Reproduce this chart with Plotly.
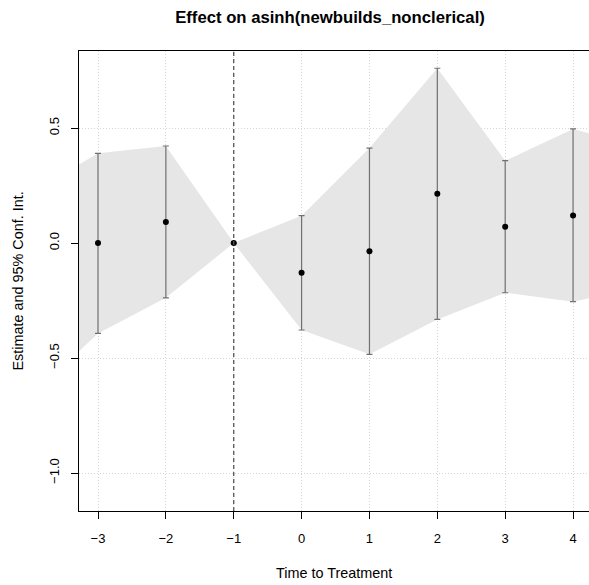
import plotly.graph_objects as go

# ---- data ----
periods = [-3, -2, -1, 0, 1, 2, 3, 4]
estimate = [0.0, 0.091, 0.0, -0.129, -0.036, 0.214, 0.071, 0.120]
ci_upper = [0.390, 0.422, 0.0, 0.119, 0.413, 0.760, 0.358, 0.496]
ci_lower = [-0.393, -0.238, 0.0, -0.378, -0.484, -0.332, -0.216, -0.255]
# shaded band continues to the plot edges
band_edge_x = [-3.28, 4.235]
band_edge_upper = [0.342, 0.477]
band_edge_lower = [-0.470, -0.240]

x_ticks = [-3, -2, -1, 0, 1, 2, 3, 4]
x_tick_labels = ["\u22123", "\u22122", "\u22121", "0", "1", "2", "3", "4"]
y_ticks = [-1.0, -0.5, 0.0, 0.5]
y_tick_labels = ["\u22121.0", "\u22120.5", "0.0", "0.5"]
reference_period = -1

title_text = "Effect on asinh(newbuilds_nonclerical)"
x_title = "Time to Treatment"
y_title = "Estimate and 95% Conf. Int."

FONT = "Liberation Sans, Arial, Helvetica, sans-serif"

fig = go.Figure()

# confidence band
band_x = [band_edge_x[0]] + periods + [band_edge_x[1]]
band_up = [band_edge_upper[0]] + ci_upper + [band_edge_upper[1]]
band_lo = [band_edge_lower[0]] + ci_lower + [band_edge_lower[1]]
fig.add_trace(go.Scatter(
    x=band_x + band_x[::-1],
    y=band_up + band_lo[::-1],
    fill="toself", fillcolor="#e6e6e6",
    line=dict(width=0), mode="lines", hoverinfo="skip", showlegend=False,
))

# point estimates with CI bars
fig.add_trace(go.Scatter(
    x=periods, y=estimate, mode="markers",
    marker=dict(color="black", size=6),
    error_y=dict(
        type="data", symmetric=False,
        array=[u - e for u, e in zip(ci_upper, estimate)],
        arrayminus=[e - l for e, l in zip(estimate, ci_lower)],
        color="#707070", thickness=1.2, width=3,
    ),
    showlegend=False,
))

# zero line and reference period line
fig.add_shape(type="line", xref="paper", x0=0, x1=1, yref="y", y0=0, y1=0,
              line=dict(color="#555555", width=1.2), layer="below")
fig.add_shape(type="line", xref="x", x0=reference_period, x1=reference_period,
              yref="paper", y0=0, y1=1,
              line=dict(color="#555555", width=1.3, dash="4px,3px"), layer="above")

fig.update_layout(
    width=589, height=585,
    margin=dict(l=79, r=0, t=51, b=74),
    paper_bgcolor="white", plot_bgcolor="white",
    font=dict(family=FONT, size=13, color="black"),
    title=dict(text="<b>" + title_text + "</b>", x=330 / 589, xref="container",
               xanchor="center", y=1 - 17 / 585, yref="container", yanchor="middle",
               font=dict(size=16.7, family=FONT, color="black")),
    showlegend=False,
)

fig.update_xaxes(
    range=[-3.28, 4.235], tickvals=x_ticks, ticktext=x_tick_labels,
    showgrid=True, gridcolor="#d6d6d6", griddash="1px,2px", gridwidth=1,
    zeroline=False, showline=True, linecolor="black", linewidth=1.3, mirror=True,
    ticks="outside", ticklen=7, tickcolor="black", tickwidth=1,
    tickfont=dict(size=13, family=FONT), ticklabelstandoff=8,
)
fig.update_yaxes(
    range=[-1.165, 0.835], tickvals=y_ticks, ticktext=y_tick_labels,
    showgrid=True, gridcolor="#d6d6d6", griddash="1px,2px", gridwidth=1,
    zeroline=False, showline=True, linecolor="black", linewidth=1.3,
    ticks="outside", ticklen=7, tickcolor="black", tickwidth=1,
    tickangle=-90, tickfont=dict(size=13, family=FONT), ticklabelstandoff=7,
)

fig.add_annotation(text=x_title, xref="paper", yref="paper",
                   x=0.5, y=0, yshift=-(573 - 511),
                   xanchor="center", yanchor="middle", showarrow=False,
                   font=dict(size=14.4, family=FONT, color="black"))
fig.add_annotation(text=y_title, xref="paper", yref="paper",
                   x=0, xshift=-(79 - 17), y=(511 - 281.5) / 460,
                   xanchor="center", yanchor="middle", showarrow=False, textangle=-90,
                   font=dict(size=14.4, family=FONT, color="black"))

fig.write_html("out.html", config={"displayModeBar": False},
               post_script="document.body.style.margin='0';document.body.style.overflow='hidden';")
